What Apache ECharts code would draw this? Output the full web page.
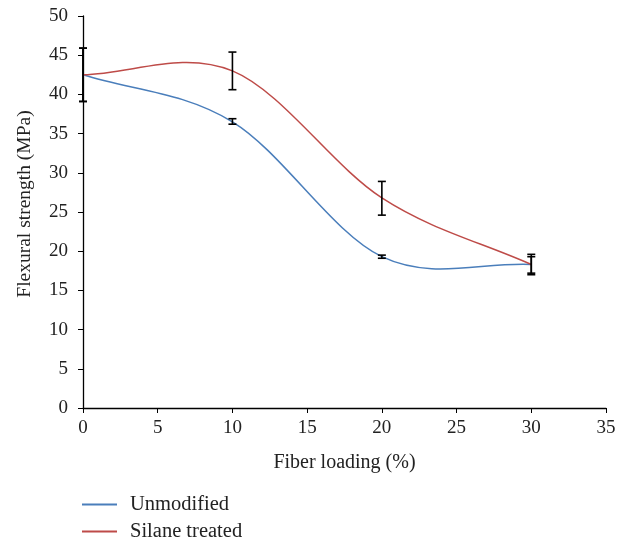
<!DOCTYPE html>
<html><head><meta charset="utf-8">
<script src="https://cdn.jsdelivr.net/npm/echarts@6/dist/echarts.min.js"></script>
<style>html,body{margin:0;padding:0;background:#fff}#c{width:627px;height:541px}</style>
</head><body><div id="c"></div>
<script>
const fiberLoading = [0, 10, 20, 30];
const unmodified = [42.5, 36.5, 19.3, 18.3];
const silane = [42.5, 43.0, 26.8, 18.3];
const unmodifiedLow = [39.1, 36.2, 19.1, 17.2];
const unmodifiedHigh = [45.9, 36.9, 19.5, 19.3];
const silaneLow = [39.1, 40.6, 24.6, 17.0];
const silaneHigh = [45.9, 45.4, 28.9, 19.6];
const seriesNames = ['Unmodified', 'Silane treated'];
const colors = ['#4a7ebb', '#be4b48'];

const font = "'Liberation Serif', 'DejaVu Serif', serif";
const pairs = (ys) => fiberLoading.map((x, i) => [x, ys[i]]);
const errData = (lo, hi) => fiberLoading.map((x, i) => [x, lo[i], hi[i]]);

function errRender(params, api) {
  const x = api.value(0);
  const lo = api.coord([x, api.value(1)]);
  const hi = api.coord([x, api.value(2)]);
  const w = 4;
  const st = { stroke: '#000', lineWidth: 1.6 };
  return {
    type: 'group',
    children: [
      { type: 'line', shape: { x1: lo[0], y1: lo[1], x2: hi[0], y2: hi[1] }, style: st },
      { type: 'line', shape: { x1: lo[0] - w, y1: lo[1], x2: lo[0] + w, y2: lo[1] }, style: st },
      { type: 'line', shape: { x1: hi[0] - w, y1: hi[1], x2: hi[0] + w, y2: hi[1] }, style: st }
    ]
  };
}

// smoothed (Catmull-Rom style) segment between point i and i+1, positioned via the axes
function curveRender(ys, color) {
  return function (params, api) {
    const i = params.dataIndex;
    const n = fiberLoading.length;
    if (i >= n - 1) return null;
    const P = (k) => api.coord([fiberLoading[k], ys[k]]);
    const p0 = P(i), p1 = P(i + 1);
    let c1, c2;
    if (i === 0) {
      c1 = [p0[0] + (p1[0] - p0[0]) / 3, p0[1] + (p1[1] - p0[1]) / 3];
    } else {
      const pm = P(i - 1);
      c1 = [p0[0] + (p1[0] - pm[0]) / 6, p0[1] + (p1[1] - pm[1]) / 6];
    }
    if (i + 1 === n - 1) {
      c2 = [p1[0] - (p1[0] - p0[0]) / 3, p1[1] - (p1[1] - p0[1]) / 3];
    } else {
      const pn = P(i + 2);
      c2 = [p1[0] - (pn[0] - p0[0]) / 6, p1[1] - (pn[1] - p0[1]) / 6];
    }
    return {
      type: 'bezierCurve',
      shape: { x1: p0[0], y1: p0[1], x2: p1[0], y2: p1[1], cpx1: c1[0], cpy1: c1[1], cpx2: c2[0], cpy2: c2[1] },
      style: { stroke: color, lineWidth: 1.5, fill: null }
    };
  };
}

const legendCommon = {
  orient: 'vertical', left: 77,
  itemWidth: 35, itemHeight: 2,
  icon: 'rect',
  textStyle: { fontFamily: font, fontSize: 20.5, color: '#222', padding: [0, 0, 0, 8] }
};

const chart = echarts.init(document.getElementById('c'));
chart.setOption({
  animation: false,
  backgroundColor: '#fff',
  textStyle: { fontFamily: font },
  grid: { left: 83, right: 21, top: 16, bottom: 133, containLabel: false },
  legend: [
    Object.assign({}, legendCommon, { top: 489, data: [seriesNames[0]] }),
    Object.assign({}, legendCommon, { top: 516, data: [seriesNames[1]] })
  ],
  xAxis: {
    type: 'value', min: 0, max: 35, interval: 5,
    name: 'Fiber loading (%)', nameLocation: 'middle', nameGap: 45,
    nameTextStyle: { fontFamily: font, fontSize: 20, color: '#222' },
    axisLine: { lineStyle: { color: '#000', width: 1.3 } },
    axisTick: { show: true, length: 5, lineStyle: { color: '#000' } },
    axisLabel: { fontFamily: font, fontSize: 19, color: '#222', margin: 11 },
    splitLine: { show: false }
  },
  yAxis: {
    type: 'value', min: 0, max: 50, interval: 5,
    name: 'Flexural strength (MPa)', nameLocation: 'middle', nameGap: 48,
    nameTextStyle: { fontFamily: font, fontSize: 19.5, color: '#222', padding: [0, 0, 0, 16] },
    axisLine: { show: true, lineStyle: { color: '#000', width: 1.3 } },
    axisTick: { show: true, length: 5, lineStyle: { color: '#000' } },
    axisLabel: { fontFamily: font, fontSize: 19, color: '#222', margin: 15 },
    splitLine: { show: false }
  },
  series: [
    { name: seriesNames[0], type: 'custom', data: pairs(unmodified), renderItem: curveRender(unmodified, colors[0]),
      itemStyle: { color: colors[0] }, clip: false, z: 2 },
    { name: seriesNames[1], type: 'custom', data: pairs(silane), renderItem: curveRender(silane, colors[1]),
      itemStyle: { color: colors[1] }, clip: false, z: 2 },
    { type: 'custom', renderItem: errRender, data: errData(unmodifiedLow, unmodifiedHigh), clip: false, z: 3 },
    { type: 'custom', renderItem: errRender, data: errData(silaneLow, silaneHigh), clip: false, z: 3 }
  ]
});
</script></body></html>
